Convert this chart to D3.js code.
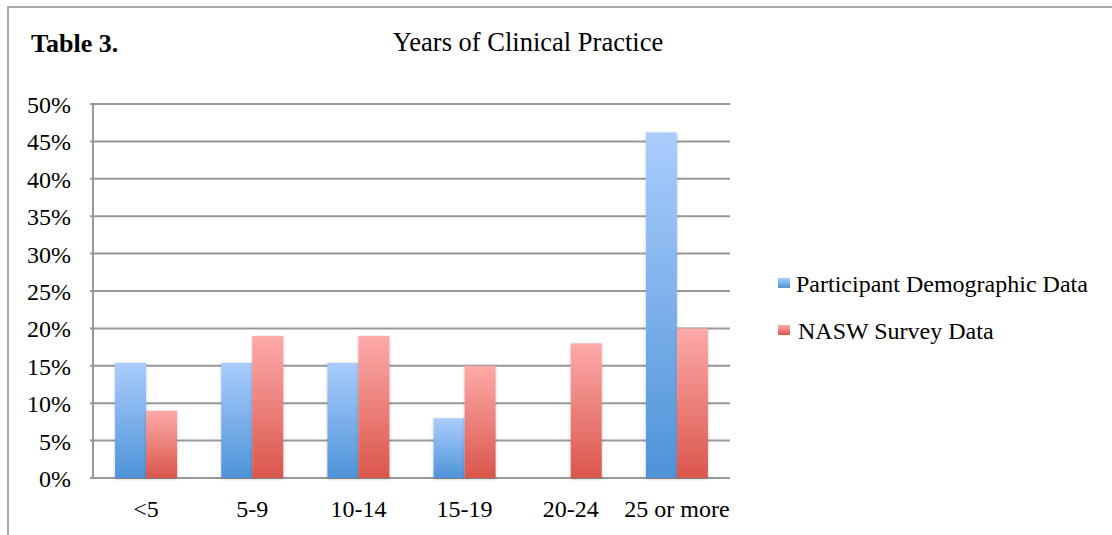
<!DOCTYPE html>
<html>
<head>
<meta charset="utf-8">
<script src="https://cdn.jsdelivr.net/npm/d3@7"></script>
<style>
  body { margin: 0; background: #fff; }
  text { font-family: "Liberation Serif", "Times New Roman", serif; fill: #000; }
</style>
</head>
<body>
<div id="chart"></div>
<script>
var categories = ["<5", "5-9", "10-14", "15-19", "20-24", "25 or more"];
var participant = [15.4, 15.4, 15.4, 8, 0, 46.2];
var nasw = [9, 19, 19, 15, 18, 20];
var seriesNames = ["Participant Demographic Data", "NASW Survey Data"];
var yTicks = [0, 5, 10, 15, 20, 25, 30, 35, 40, 45, 50];

var width = 1112, height = 535;
var margin = {top: 104, left: 93, right: 382, bottom: 57};

var svg = d3.select("#chart")
    .append("svg")
    .attr("width", width)
    .attr("height", height);

var defs = svg.append("defs");

// gradients for the bars
var grads = [["blueGrad", "#abcdfd", "#4e93d9"], ["redGrad", "#fdaaa9", "#da564c"]];
grads.forEach(function(g){
    var lg = defs.append("linearGradient")
        .attr("id", g[0])
        .attr("x1", 0).attr("y1", 0).attr("x2", 0).attr("y2", 1);
    lg.append("stop").attr("offset", "0%").attr("stop-color", g[1]);
    lg.append("stop").attr("offset", "100%").attr("stop-color", g[2]);
});

var shadow = defs.append("filter").attr("id", "shadow")
    .attr("x", "-20%").attr("y", "-5%").attr("width", "140%").attr("height", "115%");
shadow.append("feDropShadow")
    .attr("dx", 0).attr("dy", 1).attr("stdDeviation", 1.6)
    .attr("flood-color", "#000").attr("flood-opacity", 0.25);

// frame
svg.append("path")
    .attr("d", "M8,535 L8,7 L1112,7")
    .attr("fill", "none")
    .attr("stroke", "#a8a8a8")
    .attr("stroke-width", 2);

var x0 = d3.scaleBand()
    .domain(categories)
    .range([margin.left, width - margin.right]);

var x1 = d3.scaleBand()
    .domain([0, 1])
    .range([0, 62]);

var y = d3.scaleLinear()
    .domain([0, 50])
    .range([height - margin.bottom, margin.top]);

// gridlines
svg.append("g")
    .selectAll("line")
    .data(yTicks)
    .join("line")
        .attr("x1", margin.left - 3)
        .attr("x2", width - margin.right)
        .attr("y1", function(d){ return y(d); })
        .attr("y2", function(d){ return y(d); })
        .attr("stroke", "#989898")
        .attr("stroke-width", 2);

svg.append("line")
    .attr("x1", margin.left).attr("x2", margin.left)
    .attr("y1", y(50)).attr("y2", y(0))
    .attr("stroke", "#989898")
    .attr("stroke-width", 2);

// y labels
svg.append("g")
    .selectAll("text")
    .data(yTicks)
    .join("text")
        .attr("x", 71)
        .attr("y", function(d){ return y(d) + 9; })
        .attr("text-anchor", "end")
        .style("font-size", "24px")
        .text(function(d){ return d + "%"; });

// bars
var rows = categories.map(function(c, i){ return {cat: c, vals: [participant[i], nasw[i]]}; });

var groups = svg.append("g")
    .selectAll("g")
    .data(rows)
    .join("g")
        .attr("transform", function(d){ return "translate(" + (x0(d.cat) + x0.bandwidth()/2 - 31) + ",0)"; });

groups.selectAll("rect")
    .data(function(d){ return d.vals.map(function(v, k){ return {v: v, k: k}; }); })
    .join("rect")
        .filter(function(d){ return d.v > 0; })
        .attr("x", function(d){ return x1(d.k); })
        .attr("width", x1.bandwidth())
        .attr("y", function(d){ return y(d.v); })
        .attr("height", function(d){ return y(0) - y(d.v); })
        .attr("fill", function(d){ return d.k == 0 ? "url(#blueGrad)" : "url(#redGrad)"; })
        .attr("filter", "url(#shadow)");

// x labels
svg.append("g")
    .selectAll("text")
    .data(categories)
    .join("text")
        .attr("x", function(d){ return x0(d) + x0.bandwidth()/2; })
        .attr("y", 517)
        .attr("text-anchor", "middle")
        .style("font-size", "24px")
        .text(function(d){ return d; });

// titles
svg.append("text")
    .attr("x", 31).attr("y", 52)
    .style("font-size", "26px")
    .style("font-weight", "bold")
    .text("Table 3.");

svg.append("text")
    .attr("x", 528).attr("y", 51)
    .attr("text-anchor", "middle")
    .style("font-size", "26.5px")
    .text("Years of Clinical Practice");

// legend
var legend = svg.append("g")
    .selectAll("g")
    .data(seriesNames)
    .join("g")
        .attr("transform", function(d, i){ return "translate(778," + (278 + i*47) + ")"; });

legend.append("rect")
    .attr("width", 12).attr("height", 10)
    .attr("fill", function(d, i){ return i == 0 ? "url(#blueGrad)" : "url(#redGrad)"; });

legend.append("text")
    .attr("x", function(d, i){ return i == 0 ? 18 : 20; })
    .attr("y", 14)
    .style("font-size", "24px")
    .text(function(d){ return d; });
</script>
</body>
</html>
